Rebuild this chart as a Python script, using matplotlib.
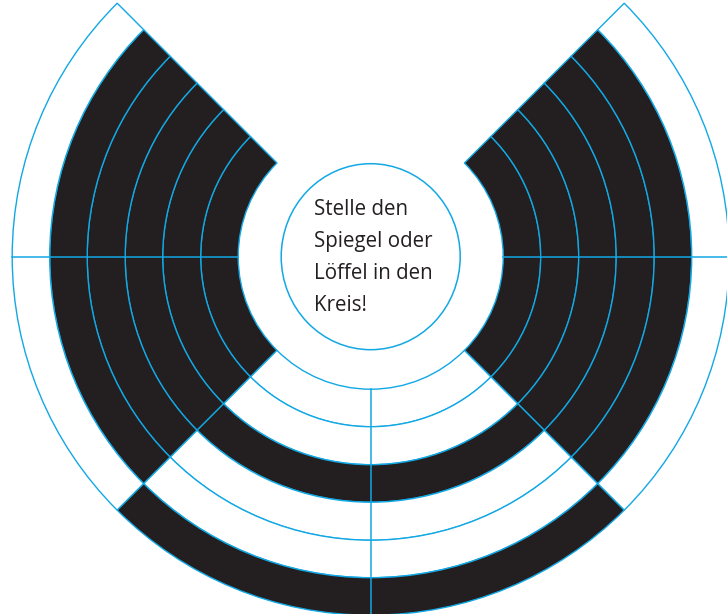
import matplotlib
matplotlib.use('Agg')
import numpy as np
import matplotlib.pyplot as plt
from matplotlib.patches import Wedge, Ellipse

# ---- Daten (Pixelkoordinaten, y nach oben) ----
center = (370.7, 614 - 256.7)
ring_edges = [132.5, 170, 208, 245.5, 283.5, 321, 358.5]

# Sektoren: Winkelbereich (Grad) und Füllmuster je Ring (innen -> außen)
sector_names  = ['links', 'rechts', 'unten']
sector_angles = [(135, 225), (-45, 45), (225, 315)]
sector_fills  = [[1, 1, 1, 1, 1, 0],
                 [1, 1, 1, 1, 1, 0],
                 [0, 0, 1, 0, 0, 1]]

spoke_angles = [180, 0, 270]

text_lines = ['Stelle den', 'Spiegel oder', 'Löffel in den', 'Kreis!']
text_circle = (179, 186)

BLUE  = '#12a8e4'
BLACK = '#231f20'


def main():
    fig = plt.figure(figsize=(7.27, 6.14), dpi=100)
    ax = fig.add_axes([0, 0, 1, 1])
    ax.set_xlim(0, 727)
    ax.set_ylim(0, 614)
    ax.set_aspect('equal')
    ax.axis('off')

    cx, cy = center
    for (t1, t2), fills in zip(sector_angles, sector_fills):
        for i, f in enumerate(fills):
            r_in, r_out = ring_edges[i], ring_edges[i + 1]
            w = Wedge(center, r_out, t1, t2, width=r_out - r_in,
                      facecolor=BLACK if f else 'white',
                      edgecolor=BLUE, linewidth=1.0, zorder=2)
            ax.add_patch(w)

    # Speichen (horizontal / vertikal)
    for a in spoke_angles:
        rad = np.deg2rad(a)
        r0, r1 = ring_edges[0], ring_edges[-1]
        ax.plot([cx + r0 * np.cos(rad), cx + r1 * np.cos(rad)],
                [cy + r0 * np.sin(rad), cy + r1 * np.sin(rad)],
                color=BLUE, linewidth=1.1, zorder=3)

    # Kreis in der Mitte
    ax.add_patch(Ellipse(center, text_circle[0], text_circle[1],
                         facecolor='white', edgecolor=BLUE, linewidth=1.1, zorder=4))

    top = cy + 41.7
    for k, line in enumerate(text_lines):
        ax.text(cx - 57, top - k * 31.9, line, ha='left', va='baseline',
                fontsize=14.8, color=BLACK, family='Open Sans', zorder=5)

    fig.savefig('out.png', dpi=100)


if __name__ == '__main__':
    main()
